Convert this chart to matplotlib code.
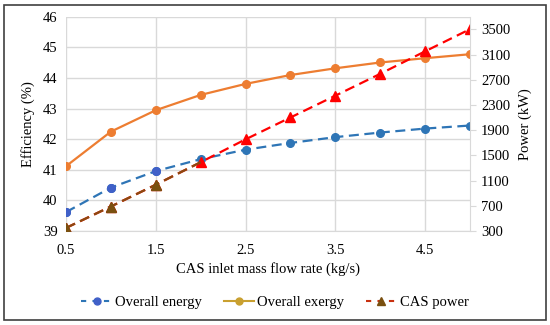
import matplotlib.pyplot as plt
from matplotlib.lines import Line2D
from matplotlib.patches import Rectangle

plt.rcParams['font.family'] = ['Liberation Serif', 'DejaVu Serif']

flow = [0.5, 1.0, 1.5, 2.0, 2.5, 3.0, 3.5, 4.0, 4.5, 5.0]
energy = [39.62, 40.42, 40.96, 41.35, 41.66, 41.88, 42.07, 42.22, 42.35, 42.45]
exergy = [41.12, 42.25, 42.95, 43.45, 43.81, 44.1, 44.32, 44.51, 44.65, 44.78]
cas_power = [350, 690, 1036, 1393, 1756, 2103, 2449, 2796, 3153, 3505]

x_ticks = [0.5, 1.5, 2.5, 3.5, 4.5]
eff_ticks = [39, 40, 41, 42, 43, 44, 45, 46]
pow_ticks = [300, 700, 1100, 1500, 1900, 2300, 2700, 3100, 3500]

fig = plt.figure(figsize=(5.5, 3.25), dpi=100)
ax = fig.add_axes([0.12, 0.289, 0.7345, 0.659])
ax2 = ax.twinx()

blue = '#2E75B6'
orange = '#ED7D31'
red = '#FF0000'
dash = (4.5, 2.5)

ax.plot(flow, energy, '--o', color=blue, ms=5.5, lw=1.6, dashes=dash)
ax.plot(flow, exergy, '-o', color=orange, ms=5.5, lw=1.6)
# the first few points look a bit off-colour in the original
ax.plot(flow[:3], energy[:3], 'o', color='#4060C8', ms=5.5)

ax2.plot(flow, cas_power, '--^', color=red, ms=7, lw=1.6, dashes=dash)
ax2.plot(flow[:4], cas_power[:4], '--', color='#8B4A10', lw=1.6, dashes=dash)
ax2.plot(flow[:3], cas_power[:3], '^', color='#7A5010', ms=7)

ax.set_xlim(0.5, 5.0)
ax.set_ylim(39, 46)
ax2.set_ylim(300, 3700)
ax.set_xticks(x_ticks)
ax.set_xticklabels([str(v) for v in x_ticks])
ax.set_yticks(eff_ticks)
ax2.set_yticks(pow_ticks)

ax.grid(True, color='#D9D9D9', lw=1)
ax.set_axisbelow(True)
for a in (ax, ax2):
    for s in a.spines.values():
        s.set_visible(False)
ax2.spines['right'].set_visible(True)
ax2.spines['right'].set_color('#D9D9D9')
ax.spines['bottom'].set_visible(True)
ax.spines['bottom'].set_color('#D9D9D9')

ax.tick_params(axis='both', length=0, labelsize=10.5, pad=6)
ax.tick_params(axis='x', pad=9)
ax2.tick_params(axis='y', length=4, color='#D9D9D9', labelsize=10.5, pad=4)

ax.set_xlabel('CAS inlet mass flow rate (kg/s)', fontsize=10.5, labelpad=4)
ax.set_ylabel('Efficiency (%)', fontsize=10.5, labelpad=6)
ax2.set_ylabel('Power (kW)', fontsize=10.5, labelpad=6)

handles = [
    Line2D([], [], color=blue, ls='--', dashes=(2.5, 3), marker='o', ms=5, mfc='#4060C8', mec='#4060C8'),
    Line2D([], [], color='#C9A030', ls='-', marker='o', ms=5),
    Line2D([], [], color='#C83010', ls='--', dashes=(2.5, 3), marker='^', ms=6, mfc='#7A5010', mec='#7A5010'),
]
fig.legend(handles, ['Overall energy', 'Overall exergy', 'CAS power'],
           loc='center', bbox_to_anchor=(0.5, 0.07), ncol=3, frameon=False,
           fontsize=10.5, handlelength=2.1, handletextpad=0.2, columnspacing=1.5)

fig.patches.append(Rectangle((0.007, 0.015), 0.986, 0.97, transform=fig.transFigure,
                             fill=False, edgecolor='#404040', lw=1.2))

fig.savefig('out.png', dpi=100)
